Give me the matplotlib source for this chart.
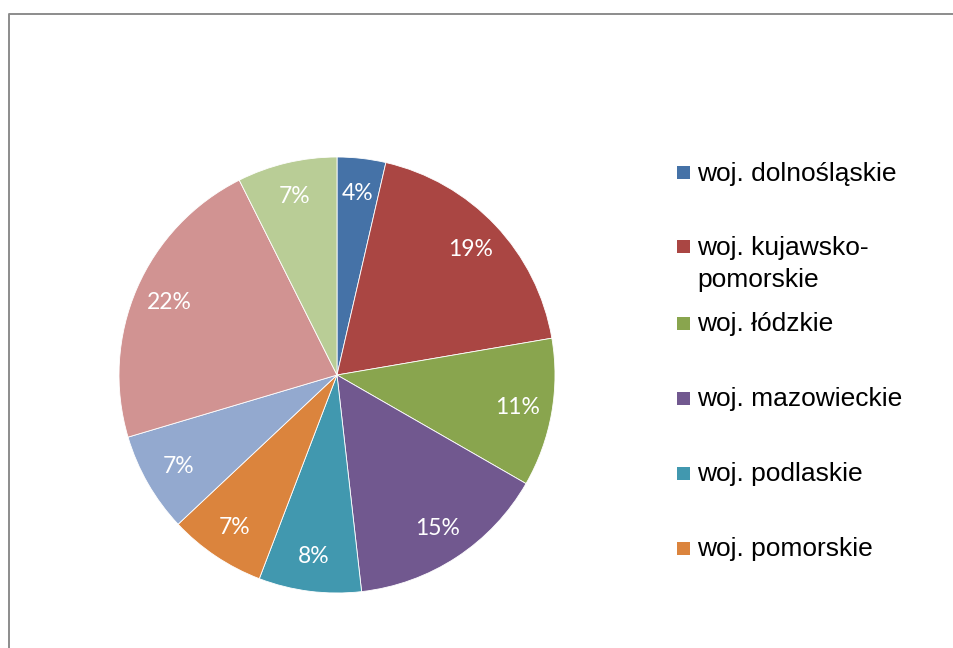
import matplotlib
matplotlib.use("Agg")
import matplotlib.pyplot as plt
from matplotlib.lines import Line2D
from matplotlib.patches import Rectangle

categories = ["woj. dolnośląskie", "woj. kujawsko-\npomorskie", "woj. łódzkie",
              "woj. mazowieckie", "woj. podlaskie", "woj. pomorskie",
              "woj. śląskie", "woj. warmińsko-mazurskie", "woj. wielkopolskie"]
values = [3.6, 18.7, 11.0, 14.9, 7.6, 7.2, 7.4, 22.2, 7.4]
colors = ["#4572A7", "#AA4643", "#89A54E", "#71588F", "#4198AF",
          "#DB843D", "#93A9CF", "#D19392", "#B9CD96"]
legend_shown = 6  # only the first six entries fit in the visible legend

W, H = 954, 648
fig = plt.figure(figsize=(W / 100, H / 100), dpi=100)

# pie axes: center (337, 375) px, radius 218 px
cx, cy, r = 337, 375, 218
ax = fig.add_axes([(cx - r) / W, (H - cy - r) / H, 2 * r / W, 2 * r / H])
wedges, texts, autotexts = ax.pie(
    values, colors=colors, startangle=90, counterclock=False,
    autopct=lambda p: f"{p:.0f}%", pctdistance=0.84,
    wedgeprops=dict(edgecolor="white", linewidth=0.6),
    textprops=dict(color="white", fontsize=16.5, family=["Lato", "DejaVu Sans"]))
ax.set_xlim(-1, 1)
ax.set_ylim(-1, 1)
ax.set_aspect("equal")
ax.axis("off")

# chart frame (partially visible)
fig.add_artist(Line2D([9.5 / W, 9.5 / W, 1.0], [0.0, 1 - 13.5 / H, 1 - 13.5 / H],
                      transform=fig.transFigure, color="#8c8c8c", linewidth=1.4))

# legend
sq_centers = [172.7, 246.7, 323.5, 398.0, 473.0, 548.0]
sq = 13
for i in range(legend_shown):
    yc = sq_centers[i]
    fig.add_artist(Rectangle(((677) / W, (H - yc - sq / 2) / H), sq / W, sq / H,
                             transform=fig.transFigure, facecolor=colors[i],
                             edgecolor="none"))
    lines = categories[i].split("\n")
    base = yc + sq / 2 + 1.5
    for j, line in enumerate(lines):
        fig.text(697 / W, (H - (base + 32.5 * j)) / H, line, va="baseline", ha="left",
                 fontsize=19, family=["Liberation Sans", "DejaVu Sans"], color="black")

fig.savefig("out.png", dpi=100, facecolor="white")
